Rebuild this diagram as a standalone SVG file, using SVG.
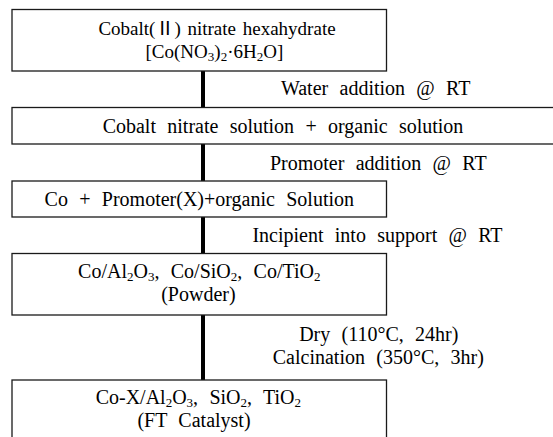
<svg xmlns="http://www.w3.org/2000/svg" width="553" height="437" viewBox="0 0 553 437">
<style>
  .box { fill: #ffffff; stroke: #1a1a1a; stroke-width: 1.3; }
  .t { font-family: "Liberation Serif", "Noto Sans CJK KR", serif; font-size: 20px; fill: #000; text-anchor: middle; word-spacing: 6.3px; }
  .t1 { font-size: 19px; word-spacing: 2px; }
  .sub { font-size: 13px; }
  .flow { stroke: #000; stroke-width: 4; fill: none; }
</style>
<rect width="553" height="437" fill="#ffffff"/>
<g id="connectors">
  <line class="flow" x1="203" y1="71" x2="203" y2="380"/>
  <text class="t" x="375.7" y="95">Water addition @ RT</text>
  <text class="t" x="378.3" y="170">Promoter addition @ RT</text>
  <text class="t" x="377.5" y="241.5">Incipient into support @ RT</text>
  <text class="t" x="378.8" y="341">Dry (110°C, 24hr)</text>
  <text class="t" x="378.3" y="363.5">Calcination (350°C, 3hr)</text>
</g>
<g id="node-cobalt-nitrate-hexahydrate">
  <rect class="box" x="12" y="9.5" width="374.5" height="61.5"/>
  <text class="t t1" x="217" y="35">Cobalt(Ⅱ) nitrate hexahydrate</text>
  <text class="t t1" x="214.4" y="58">[Co(NO<tspan class="sub" dy="3">3</tspan><tspan dy="-3">)</tspan><tspan class="sub" dy="3">2</tspan><tspan dy="-3">·6H</tspan><tspan class="sub" dy="3">2</tspan><tspan dy="-3">O]</tspan></text>
</g>
<g id="node-cobalt-nitrate-solution">
  <rect class="box" x="12" y="107.5" width="548" height="36.5"/>
  <text class="t" x="283" y="133">Cobalt nitrate solution + organic solution</text>
</g>
<g id="node-co-promoter">
  <rect class="box" x="12" y="181" width="374.5" height="36"/>
  <text class="t" x="199.3" y="206">Co + Promoter(X)+organic Solution</text>
</g>
<g id="node-powder">
  <rect class="box" x="12" y="253.5" width="374.5" height="61.5"/>
  <text class="t" x="199.3" y="278">Co/Al<tspan class="sub" dy="3">2</tspan><tspan dy="-3">O</tspan><tspan class="sub" dy="3">3</tspan><tspan dy="-3">, Co/SiO</tspan><tspan class="sub" dy="3">2</tspan><tspan dy="-3">, Co/TiO</tspan><tspan class="sub" dy="3">2</tspan></text>
  <text class="t" x="198.4" y="301">(Powder)</text>
</g>
<g id="node-ft-catalyst">
  <rect class="box" x="12" y="380" width="374.5" height="70"/>
  <text class="t" x="198.3" y="404">Co-X/Al<tspan class="sub" dy="3">2</tspan><tspan dy="-3">O</tspan><tspan class="sub" dy="3">3</tspan><tspan dy="-3">, SiO</tspan><tspan class="sub" dy="3">2</tspan><tspan dy="-3">, TiO</tspan><tspan class="sub" dy="3">2</tspan></text>
  <text class="t" x="194" y="427">(FT Catalyst)</text>
</g>
</svg>
